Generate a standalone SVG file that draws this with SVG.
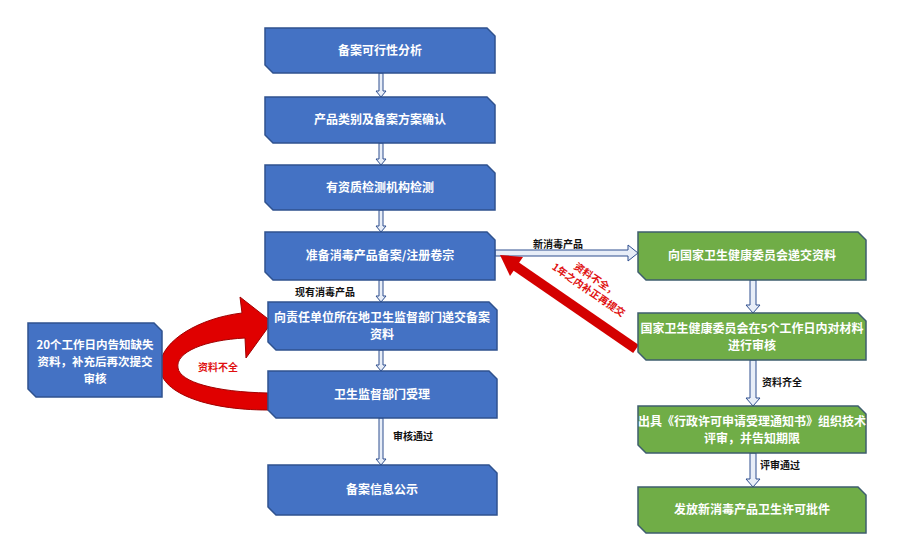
<svg xmlns="http://www.w3.org/2000/svg" width="900" height="560" viewBox="0 0 900 560">
<style>
.b{fill:#4472C4;stroke:#2F528F;stroke-width:1.5}
.g{fill:#70AD47;stroke:#3E5E6E;stroke-width:1.5}
.t{font-family:"Noto Sans CJK SC","Liberation Sans",sans-serif;font-size:12px;font-weight:bold;fill:#fff;text-anchor:middle}
.s{font-size:11.5px}
.l{font-family:"Noto Sans CJK SC","Liberation Sans",sans-serif;font-size:10px;font-weight:bold;fill:#111}
.r{font-family:"Noto Sans CJK SC","Liberation Sans",sans-serif;font-size:10px;font-weight:bold;fill:#E01010}
.a{fill:#E8EEF8;stroke:#2F4F8F;stroke-width:1}
</style>
<rect width="900" height="560" fill="#fff"/>
<g id="connectors">
<polygon class="a" points="379,73 383,73 383,91 386,91 381,97 376,91 379,91"/>
<polygon class="a" points="379,143 383,143 383,159 386,159 381,165 376,159 379,159"/>
<polygon class="a" points="379,210 383,210 383,226 386,226 381,232 376,226 379,226"/>
<polygon class="a" points="379,280 383,280 383,296 386,296 381,302 376,296 379,296"/>
<polygon class="a" points="379,350 383,350 383,365 386,365 381,371 376,365 379,365"/>
<polygon class="a" points="379,418 383,418 383,459 386,459 381,465 376,459 379,459"/>
<polygon class="a" points="495,250 628,250 628,245 638,253 628,261 628,256 495,256"/>
<polygon class="a" points="750,280 756,280 756,305 760,305 753,313 746,305 750,305"/>
<polygon class="a" points="750,360 756,360 756,398 760,398 753,406 746,398 750,398"/>
<polygon class="a" points="750,453 756,453 756,479 760,479 753,487 746,479 750,479"/>
<line x1="636" y1="349" x2="514" y2="265" stroke="#D40000" stroke-width="10"/>
<polygon points="500,255 523,257 510,276" fill="#D40000"/>
<path d="M268,410 C205,410 158,392 160,365 C162,340 200,318 242,313 L240,297 L272,322 L246,358 L245,338 C205,340 175,352 178,368 C180,382 215,392 268,393 Z" fill="#E00000" stroke="#A00000" stroke-width="1"/>
<text class="l" x="295" y="296">现有消毒产品</text>
<text class="l" x="393" y="440">审核通过</text>
<text class="l" x="533" y="248">新消毒产品</text>
<text class="l" x="762" y="386">资料齐全</text>
<text class="l" x="760" y="469">评审通过</text>
<text class="r" x="198" y="371">资料不全</text>
<g transform="translate(590,288) rotate(34.5)">
<text class="r" x="0" y="-7" text-anchor="middle">资料不全，</text>
<text class="r" x="0" y="6" text-anchor="middle">1年之内补正再提交</text>
</g>
</g>
<g id="n1"><polygon class="b" points="265,28 487,28 495,36 495,73 273,73 265,65"/><text class="t" x="380" y="55">备案可行性分析</text></g>
<g id="n2"><polygon class="b" points="265,97 487,97 495,105 495,143 273,143 265,135"/><text class="t" x="380" y="124">产品类别及备案方案确认</text></g>
<g id="n3"><polygon class="b" points="265,165 487,165 495,173 495,210 273,210 265,202"/><text class="t" x="380" y="192">有资质检测机构检测</text></g>
<g id="n4"><polygon class="b" points="265,232 487,232 495,240 495,280 273,280 265,272"/><text class="t" x="380" y="260">准备消毒产品备案/注册卷宗</text></g>
<g id="n5"><polygon class="b" points="268,302 489,302 497,310 497,350 276,350 268,342"/><text class="t" x="382" y="322">向责任单位所在地卫生监督部门递交备案</text><text class="t" x="382" y="339">资料</text></g>
<g id="n6"><polygon class="b" points="268,371 489,371 497,379 497,418 276,418 268,410"/><text class="t" x="382" y="399">卫生监督部门受理</text></g>
<g id="n7"><polygon class="b" points="268,465 489,465 497,473 497,515 276,515 268,507"/><text class="t" x="382" y="494">备案信息公示</text></g>
<g id="n8"><polygon class="b" points="28,323 154,323 162,331 162,397 36,397 28,389"/><text class="t s" x="95" y="349">20个工作日内告知缺失</text><text class="t s" x="95" y="366">资料，补充后再次提交</text><text class="t s" x="95" y="383">审核</text></g>
<g id="g1"><polygon class="g" points="638,232 858,232 866,240 866,280 646,280 638,272"/><text class="t" x="752" y="260">向国家卫生健康委员会递交资料</text></g>
<g id="g2"><polygon class="g" points="638,313 858,313 866,321 866,360 646,360 638,352"/><text class="t" x="752" y="333">国家卫生健康委员会在5个工作日内对材料</text><text class="t" x="752" y="350">进行审核</text></g>
<g id="g3"><polygon class="g" points="638,406 858,406 866,414 866,453 646,453 638,445"/><text class="t" x="752" y="426">出具《行政许可申请受理通知书》组织技术</text><text class="t" x="752" y="443">评审，并告知期限</text></g>
<g id="g4"><polygon class="g" points="638,487 858,487 866,495 866,533 646,533 638,525"/><text class="t" x="752" y="514">发放新消毒产品卫生许可批件</text></g>
</svg>
